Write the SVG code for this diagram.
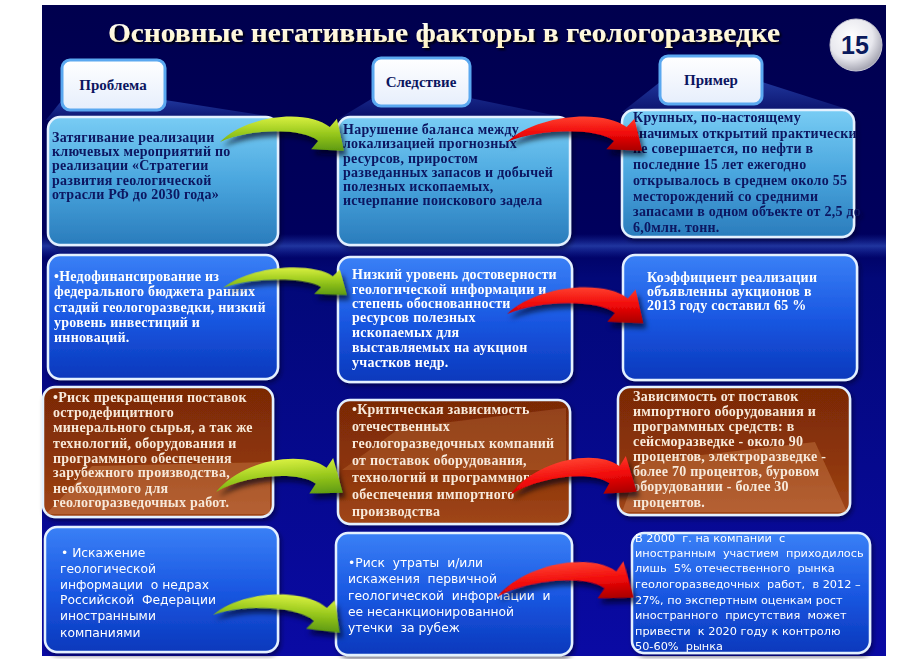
<svg xmlns="http://www.w3.org/2000/svg" xmlns:xlink="http://www.w3.org/1999/xlink" width="900" height="659" viewBox="0 0 900 659">
<style>
.sr{font-family:"Liberation Serif","Times New Roman",serif;font-weight:bold;font-size:14px;letter-spacing:0.25px}
.navy{fill:#0b1560}
.wh{fill:#ffffff}
.cr{fill:#f7e9da}
.ss{font-family:"DejaVu Sans","Liberation Sans",sans-serif;font-size:12.3px;fill:#ffffff;white-space:pre}
.ssc{font-size:11.3px}
.hdr{font-family:"Liberation Serif","Times New Roman",serif;font-weight:bold;font-size:15px;fill:#0b1560;text-anchor:middle}
.box{stroke:#e4f1ff;stroke-width:2.5}
.lb{fill:url(#gLb)}
.db{fill:url(#gDb)}
.br{fill:url(#gBr)}
.hb{fill:url(#gHb);stroke:#5aa8f0;stroke-width:3}
.green{fill:url(#gGreen)}
.red{fill:url(#gRed)}
</style>
<defs>
<linearGradient id="gBg" x1="0" y1="0" x2="0" y2="1">
<stop offset="0" stop-color="#00004e"/>
<stop offset="0.36" stop-color="#00005e"/>
<stop offset="0.42" stop-color="#020878"/>
<stop offset="1" stop-color="#0a0aa4"/>
</linearGradient>
<linearGradient id="gBand" x1="0" y1="0" x2="0" y2="1">
<stop offset="0" stop-color="#2040c0" stop-opacity="0"/>
<stop offset="0.5" stop-color="#3a60d0" stop-opacity="0.55"/>
<stop offset="1" stop-color="#2040c0" stop-opacity="0"/>
</linearGradient>
<linearGradient id="gLb" x1="0" y1="0" x2="0" y2="1">
<stop offset="0" stop-color="#78ccf4"/>
<stop offset="0.5" stop-color="#4aa6de"/>
<stop offset="1" stop-color="#2a7cbc"/>
</linearGradient>
<linearGradient id="gDb" x1="0" y1="0" x2="0" y2="1">
<stop offset="0" stop-color="#3a80f6"/>
<stop offset="0.5" stop-color="#1a58e2"/>
<stop offset="1" stop-color="#0a38bc"/>
</linearGradient>
<linearGradient id="gBr" x1="0" y1="0" x2="0" y2="1">
<stop offset="0" stop-color="#7a2806"/>
<stop offset="0.6" stop-color="#8e3608"/>
<stop offset="1" stop-color="#a0461a"/>
</linearGradient>
<linearGradient id="gHb" x1="0" y1="0" x2="0" y2="1">
<stop offset="0" stop-color="#ffffff"/>
<stop offset="1" stop-color="#e6eefc"/>
</linearGradient>
<linearGradient id="gSpot" x1="0" y1="0" x2="0" y2="1">
<stop offset="0" stop-color="#2c4cb8" stop-opacity="0.7"/>
<stop offset="1" stop-color="#2c4cb8" stop-opacity="0.25"/>
</linearGradient>
<linearGradient id="gGreen" x1="0" y1="0" x2="0" y2="1">
<stop offset="0" stop-color="#d8f040"/>
<stop offset="0.5" stop-color="#98c81c"/>
<stop offset="1" stop-color="#5e9a10"/>
</linearGradient>
<linearGradient id="gRed" x1="0" y1="0" x2="0" y2="1">
<stop offset="0" stop-color="#ff4030"/>
<stop offset="0.5" stop-color="#f00808"/>
<stop offset="1" stop-color="#a80000"/>
</linearGradient>
<radialGradient id="gCirc" cx="0.4" cy="0.35" r="0.7">
<stop offset="0" stop-color="#ffffff"/>
<stop offset="0.6" stop-color="#e8e8ee"/>
<stop offset="1" stop-color="#9a9aa8"/>
</radialGradient>
<linearGradient id="gTitle" x1="0" y1="0" x2="0" y2="1">
<stop offset="0" stop-color="#ffffff"/>
<stop offset="1" stop-color="#fff2c0"/>
</linearGradient>
<filter id="fSh" x="-20%" y="-30%" width="140%" height="160%">
<feDropShadow dx="3" dy="5" stdDeviation="2.5" flood-color="#000010" flood-opacity="0.65"/>
</filter>
<filter id="fBox" x="-10%" y="-10%" width="120%" height="125%">
<feDropShadow dx="2" dy="3" stdDeviation="2" flood-color="#000020" flood-opacity="0.5"/>
</filter>
<filter id="fTitle" x="-5%" y="-30%" width="110%" height="160%">
<feDropShadow dx="2" dy="2" stdDeviation="1" flood-color="#000000" flood-opacity="0.9"/>
</filter>
<path id="arr" d="M0,0 C28,-28 88.4,-33 109.8,-14.9 L116.9,-23.3 L123.9,8.7 L91.1,7.3 L98.2,-1.1 C82.9,-14 30,-14 0,0 Z"/>
</defs>

<rect x="0" y="0" width="900" height="659" fill="#ffffff"/>
<rect x="42" y="5" width="844" height="651" fill="url(#gBg)"/>
<rect x="42" y="234" width="844" height="24" fill="url(#gBand)"/>

<!-- spotlights under headers -->
<polygon points="62,100 165,100 292,120 46,120" fill="url(#gSpot)"/>
<polygon points="373,98 470,98 572,119 338,119" fill="url(#gSpot)" opacity="0.7"/>
<polygon points="660,82 762,82 856,112 622,112" fill="url(#gSpot)"/>

<g id="title">
<text x="444" y="42" text-anchor="middle" font-family="'Liberation Serif','Times New Roman',serif" font-weight="bold" font-size="28" fill="url(#gTitle)" filter="url(#fTitle)" textLength="672" lengthAdjust="spacingAndGlyphs">Основные негативные факторы в геологоразведке</text>
</g>

<g id="page-number">
<circle cx="856" cy="45" r="26" fill="url(#gCirc)" stroke="#c8c8d4" stroke-width="1"/>
<text x="855" y="54" text-anchor="middle" font-family="'Liberation Sans',Arial,sans-serif" font-weight="bold" font-size="25" fill="#0a1a5c">15</text>
</g>

<g id="hdr-problem">
<rect class="hb" x="62" y="60" width="103" height="50" rx="8"/>
<text class="hdr" x="113" y="90">Проблема</text>
</g>
<g id="hdr-consequence">
<rect class="hb" x="373" y="58" width="97" height="48" rx="8"/>
<text class="hdr" x="421" y="87">Следствие</text>
</g>
<g id="hdr-example">
<rect class="hb" x="660" y="56" width="102" height="48" rx="8"/>
<text class="hdr" x="711" y="85">Пример</text>
</g>

<!-- Row 1 -->
<g id="a1" filter="url(#fBox)">
<rect class="box lb" x="48" y="117" width="230" height="128" rx="12"/>
<text class="sr navy"><tspan x="52" y="142">Затягивание реализации</tspan><tspan x="52" y="156">ключевых мероприятий по</tspan><tspan x="52" y="170">реализации «Стратегии</tspan><tspan x="52" y="185">развития геологической</tspan><tspan x="52" y="199">отрасли РФ до 2030 года»</tspan></text>
</g>
<g id="b1" filter="url(#fBox)">
<rect class="box lb" x="338" y="117" width="232" height="128" rx="12"/>
<text class="sr navy"><tspan x="343" y="134">Нарушение баланса между</tspan><tspan x="343" y="148">локализацией прогнозных</tspan><tspan x="343" y="163">ресурсов, приростом</tspan><tspan x="343" y="177">разведанных запасов и добычей</tspan><tspan x="343" y="191">полезных ископаемых,</tspan><tspan x="343" y="205">исчерпание поискового задела</tspan></text>
</g>
<g id="c1" filter="url(#fBox)">
<rect class="box lb" x="622" y="110" width="232" height="127" rx="12"/>
<text class="sr navy"><tspan x="633" y="122">Крупных, по-настоящему</tspan><tspan x="633" y="138">значимых открытий практически</tspan><tspan x="633" y="153">не совершается, по нефти в</tspan><tspan x="633" y="169">последние 15 лет ежегодно</tspan><tspan x="633" y="185">открывалось  в среднем около 55</tspan><tspan x="633" y="201">месторождений со средними</tspan><tspan x="633" y="216">запасами в одном объекте от 2,5 до</tspan><tspan x="633" y="232">6,0млн. тонн.</tspan></text>
</g>

<!-- Row 2 -->
<g id="a2" filter="url(#fBox)">
<rect class="box db" x="48" y="255" width="230" height="124" rx="12"/>
<text class="sr wh"><tspan x="54" y="281">•Недофинансирование из</tspan><tspan x="54" y="296">федерального бюджета ранних</tspan><tspan x="54" y="312">стадий геологоразведки, низкий</tspan><tspan x="54" y="327">уровень инвестиций и</tspan><tspan x="54" y="342">инноваций.</tspan></text>
</g>
<g id="b2" filter="url(#fBox)">
<rect class="box db" x="338" y="257" width="234" height="125" rx="12"/>
<text class="sr wh"><tspan x="352" y="279">Низкий уровень достоверности</tspan><tspan x="352" y="294">геологической информации и</tspan><tspan x="352" y="308">степень обоснованности</tspan><tspan x="352" y="322">ресурсов полезных</tspan><tspan x="352" y="337">ископаемых для</tspan><tspan x="352" y="352">выставляемых  на аукцион</tspan><tspan x="352" y="367">участков недр.</tspan></text>
</g>
<g id="c2" filter="url(#fBox)">
<rect class="box db" x="623" y="255" width="234" height="125" rx="12"/>
<text class="sr wh"><tspan x="647" y="282">Коэффициент реализации</tspan><tspan x="647" y="296">объявленны аукционов в</tspan><tspan x="647" y="310">2013 году составил 65 %</tspan></text>
</g>

<!-- Row 3 -->
<g id="a3" filter="url(#fBox)">
<rect class="box br" x="43" y="387" width="230" height="130" rx="12"/>
<polygon points="46,514 92,466 270,462 270,514" fill="#e8a070" opacity="0.3"/>
<text class="sr cr"><tspan x="53" y="402">•Риск прекращения поставок</tspan><tspan x="53" y="417">остродефицитного</tspan><tspan x="53" y="432">минерального сырья, а так же</tspan><tspan x="53" y="448">технологий, оборудования и</tspan><tspan x="53" y="463">программного обеспечения</tspan><tspan x="53" y="477">зарубежного производства,</tspan><tspan x="53" y="493">необходимого для</tspan><tspan x="53" y="507">геологоразведочных работ.</tspan></text>
</g>
<g id="b3" filter="url(#fBox)">
<rect class="box br" x="338" y="400" width="232" height="124" rx="12"/>
<polygon points="342,470 400,428 566,408 566,470" fill="#e8a070" opacity="0.22"/>
<text class="sr cr"><tspan x="352" y="414">•Критическая зависимость</tspan><tspan x="352" y="431">отечественных</tspan><tspan x="352" y="448">геологоразведочных компаний</tspan><tspan x="352" y="465">от поставок оборудования,</tspan><tspan x="352" y="482">технологий и программного</tspan><tspan x="352" y="499">обеспечения импортного</tspan><tspan x="352" y="516">производства</tspan></text>
</g>
<g id="c3" filter="url(#fBox)">
<rect class="box br" x="618" y="387" width="232" height="128" rx="12"/>
<polygon points="622,512 640,462 815,442 847,512" fill="#e8a070" opacity="0.3"/>
<text class="sr cr"><tspan x="633" y="401">Зависимость от поставок</tspan><tspan x="633" y="416">импортного оборудования и</tspan><tspan x="633" y="431">программных средств: в</tspan><tspan x="633" y="446">сейсморазведке - около 90</tspan><tspan x="633" y="461">процентов, электроразведке -</tspan><tspan x="633" y="476">более 70 процентов, буровом</tspan><tspan x="633" y="491">оборудовании - более 30</tspan><tspan x="633" y="507">процентов.</tspan></text>
</g>

<!-- Row 4 -->
<g id="a4" filter="url(#fBox)">
<rect class="box db" x="45" y="527" width="233" height="125" rx="12"/>
<text class="ss"><tspan x="61" y="557">• Искажение</tspan><tspan x="60" y="573">геологической</tspan><tspan x="60" y="589">информации  о недрах</tspan><tspan x="60" y="604">Российской  Федерации</tspan><tspan x="60" y="620">иностранными</tspan><tspan x="60" y="637">компаниями</tspan></text>
</g>
<g id="b4" filter="url(#fBox)">
<rect class="box db" x="336" y="533" width="236" height="122" rx="12"/>
<text class="ss"><tspan x="348" y="567">•Риск  утраты  и/или</tspan><tspan x="348" y="583">искажения  первичной</tspan><tspan x="348" y="600">геологической  информации  и</tspan><tspan x="348" y="616">ее несанкционированной</tspan><tspan x="348" y="632">утечки  за рубеж</tspan></text>
</g>
<g id="c4" filter="url(#fBox)">
<rect class="box db" x="632" y="533" width="238" height="120" rx="12"/>
<text class="ss ssc"><tspan x="635" y="542">В 2000  г. на компании  с</tspan><tspan x="635" y="557">иностранным  участием  приходилось</tspan><tspan x="635" y="572">лишь  5% отечественного  рынка</tspan><tspan x="635" y="588">геологоразведочных  работ,  в 2012 –</tspan><tspan x="635" y="604">27%, по экспертным оценкам рост</tspan><tspan x="635" y="619">иностранного  присутствия  может</tspan><tspan x="635" y="635">привести  к 2020 году к контролю</tspan><tspan x="635" y="650">50-60%  рынка</tspan></text>
</g>

<g id="connectors" filter="url(#fSh)">
<use xlink:href="#arr" class="green" transform="translate(220,142)"/>
<use xlink:href="#arr" class="red" transform="translate(507,142) scale(1.09,1)"/>
<use xlink:href="#arr" class="green" transform="translate(223,288) scale(1,0.8)"/>
<use xlink:href="#arr" class="red" transform="translate(507,314) scale(1.1,1.05)"/>
<use xlink:href="#arr" class="green" transform="translate(216,492) rotate(-4) scale(1.02,1.1)"/>
<use xlink:href="#arr" class="red" transform="translate(510,495) rotate(-6) scale(1.02,1.15)"/>
<use xlink:href="#arr" class="green" transform="translate(213,615) rotate(4) scale(1.03,1)"/>
<use xlink:href="#arr" class="red" transform="translate(497,597) rotate(-4) scale(1.1,1.15)"/>
</g>
</svg>
